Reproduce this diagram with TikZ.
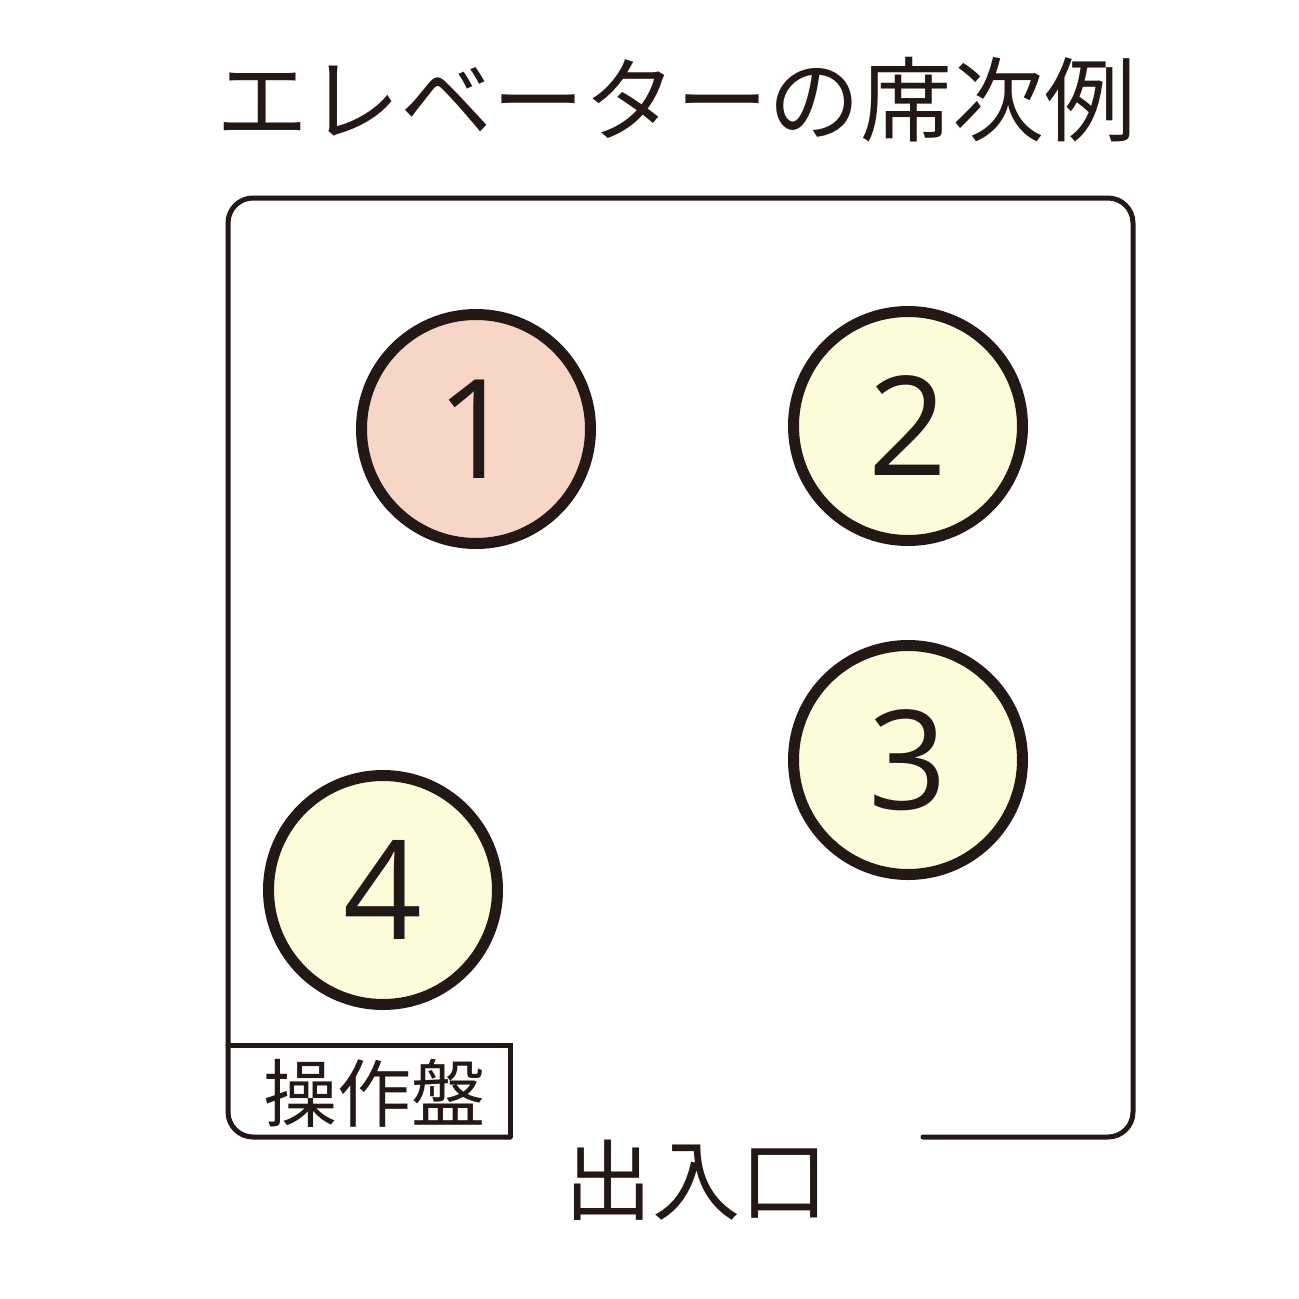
\documentclass[tikz,border=0pt]{standalone}
\usepackage{fontspec}
\setmainfont{Noto Sans CJK JP}
\newfontfamily\digitfont{Open Sans}
\definecolor{ink}{HTML}{231815}
\definecolor{firstfill}{HTML}{F7D5C7}
\definecolor{otherfill}{HTML}{FCFCDA}
\tikzset{
  seat/.style={circle, draw=ink, line width=11pt, minimum size=229pt, inner sep=0pt, text=ink, font=\digitfont\fontsize{138}{138}\selectfont},
  wall/.style={draw=ink, line width=5pt, line cap=round, line join=miter},
  label/.style={text=ink, inner sep=0pt}
}
\begin{document}
\begin{tikzpicture}[x=1pt,y=-1pt]
\useasboundingbox (0,0) rectangle (1299,1299);
\node[label, font=\fontsize{92}{92}\selectfont] (title) at (676,100) {エレベーターの席次例};
% car walls
\draw[wall, rounded corners=25pt] (923,1137) -- (1133,1137) -- (1133,198) -- (228,198) -- (228,1137) -- (510,1137);
\draw[wall] (228,1045) -- (510,1045) -- (510,1137);
\node[label, font=\fontsize{74}{74}\selectfont] (panel) at (374,1093) {操作盤};
\node[label, font=\fontsize{88}{88}\selectfont] (exit) at (696,1180) {出入口};
\node[seat, fill=firstfill] (s1) at (476,429) {1};
\node[seat, fill=otherfill] (s2) at (908,426) {2};
\node[seat, fill=otherfill] (s3) at (908,760) {3};
\node[seat, fill=otherfill] (s4) at (383,890) {4};
\end{tikzpicture}
\end{document}
